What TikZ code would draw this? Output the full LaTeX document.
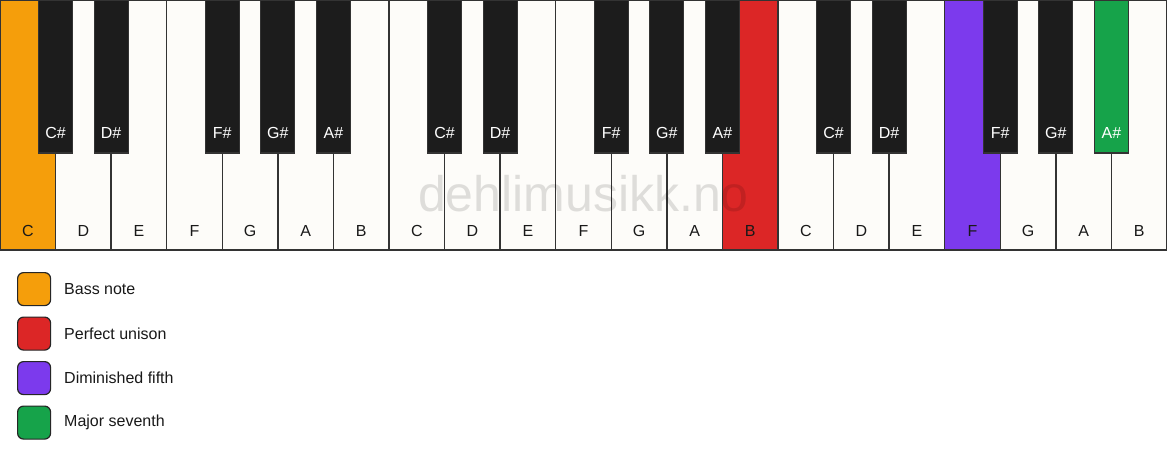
\documentclass[tikz,border=0pt]{standalone}
\usepackage{fontspec}
\setmainfont{Liberation Sans}
\definecolor{keywhite}{HTML}{FDFCF9}
\definecolor{keyblack}{HTML}{1C1C1C}
\definecolor{keyline}{HTML}{333333}
\definecolor{bassc}{HTML}{F59E0B}
\definecolor{unisonc}{HTML}{DC2626}
\definecolor{dimc}{HTML}{7C3AED}
\definecolor{majc}{HTML}{16A34A}
\begin{document}
\begin{tikzpicture}[x=1pt,y=-1pt,
  whitekey/.style={draw=keyline, line width=1.3pt, anchor=north west, inner sep=0pt, outer sep=0pt,
    minimum width=55.571pt, minimum height=250pt},
  blackkey/.style={draw=keyline, line width=1.1pt, anchor=north, inner sep=0pt, outer sep=0pt,
    minimum width=34pt, minimum height=153pt},
  wlabel/.style={text=black!90, font=\fontsize{16}{19}\selectfont, inner sep=0pt},
  blabel/.style={text=white, font=\fontsize{16}{19}\selectfont, inner sep=0pt},
  legendbox/.style={draw=black!85, line width=1.2pt, rounded corners=6pt, anchor=north west,
    inner sep=0pt, minimum width=33pt, minimum height=33pt},
  legendtext/.style={anchor=west, text=black!90, font=\fontsize{16}{19}\selectfont, inner sep=0pt},
  watermark/.style={font=\fontsize{50}{60}\selectfont, text=black, text opacity=0.12, anchor=base, inner sep=0pt}
]
\useasboundingbox (0,0) rectangle (1167,461);
\fill[white] (0,0) rectangle (1167,461);
% white keys
\foreach \n/\c [count=\i from 0] in {C/bassc,D/keywhite,E/keywhite,F/keywhite,G/keywhite,A/keywhite,B/keywhite,
  C/keywhite,D/keywhite,E/keywhite,F/keywhite,G/keywhite,A/keywhite,B/unisonc,
  C/keywhite,D/keywhite,E/keywhite,F/dimc,G/keywhite,A/keywhite,B/keywhite} {
  \node[whitekey, fill=\c] (w\i) at ({\i*55.571},0) {};
  \node[wlabel] (wl\i) at ({(\i+0.5)*55.571},230.5) {\n};
}
% black keys
\foreach \b/\n/\c in {1/C\#/keyblack,2/D\#/keyblack,4/F\#/keyblack,5/G\#/keyblack,6/A\#/keyblack,
  8/C\#/keyblack,9/D\#/keyblack,11/F\#/keyblack,12/G\#/keyblack,13/A\#/keyblack,
  15/C\#/keyblack,16/D\#/keyblack,18/F\#/keyblack,19/G\#/keyblack,20/A\#/majc} {
  \node[blackkey, fill=\c] (b\b) at ({\b*55.571},0) {};
  \node[blabel] (bl\b) at ({\b*55.571},133) {\n};
}
% watermark
\node[watermark] (wm) at (583.5,211) {dehlimusikk.no};
% legend
\foreach \c/\t [count=\k from 0] in {bassc/Bass note,unisonc/Perfect unison,dimc/Diminished fifth,majc/Major seventh} {
  \node[legendbox, fill=\c] (lb\k) at (17,{272+\k*44.5}) {};
  \node[legendtext] (lt\k) at (64,{289+\k*44.5}) {\t};
}
\end{tikzpicture}
\end{document}
